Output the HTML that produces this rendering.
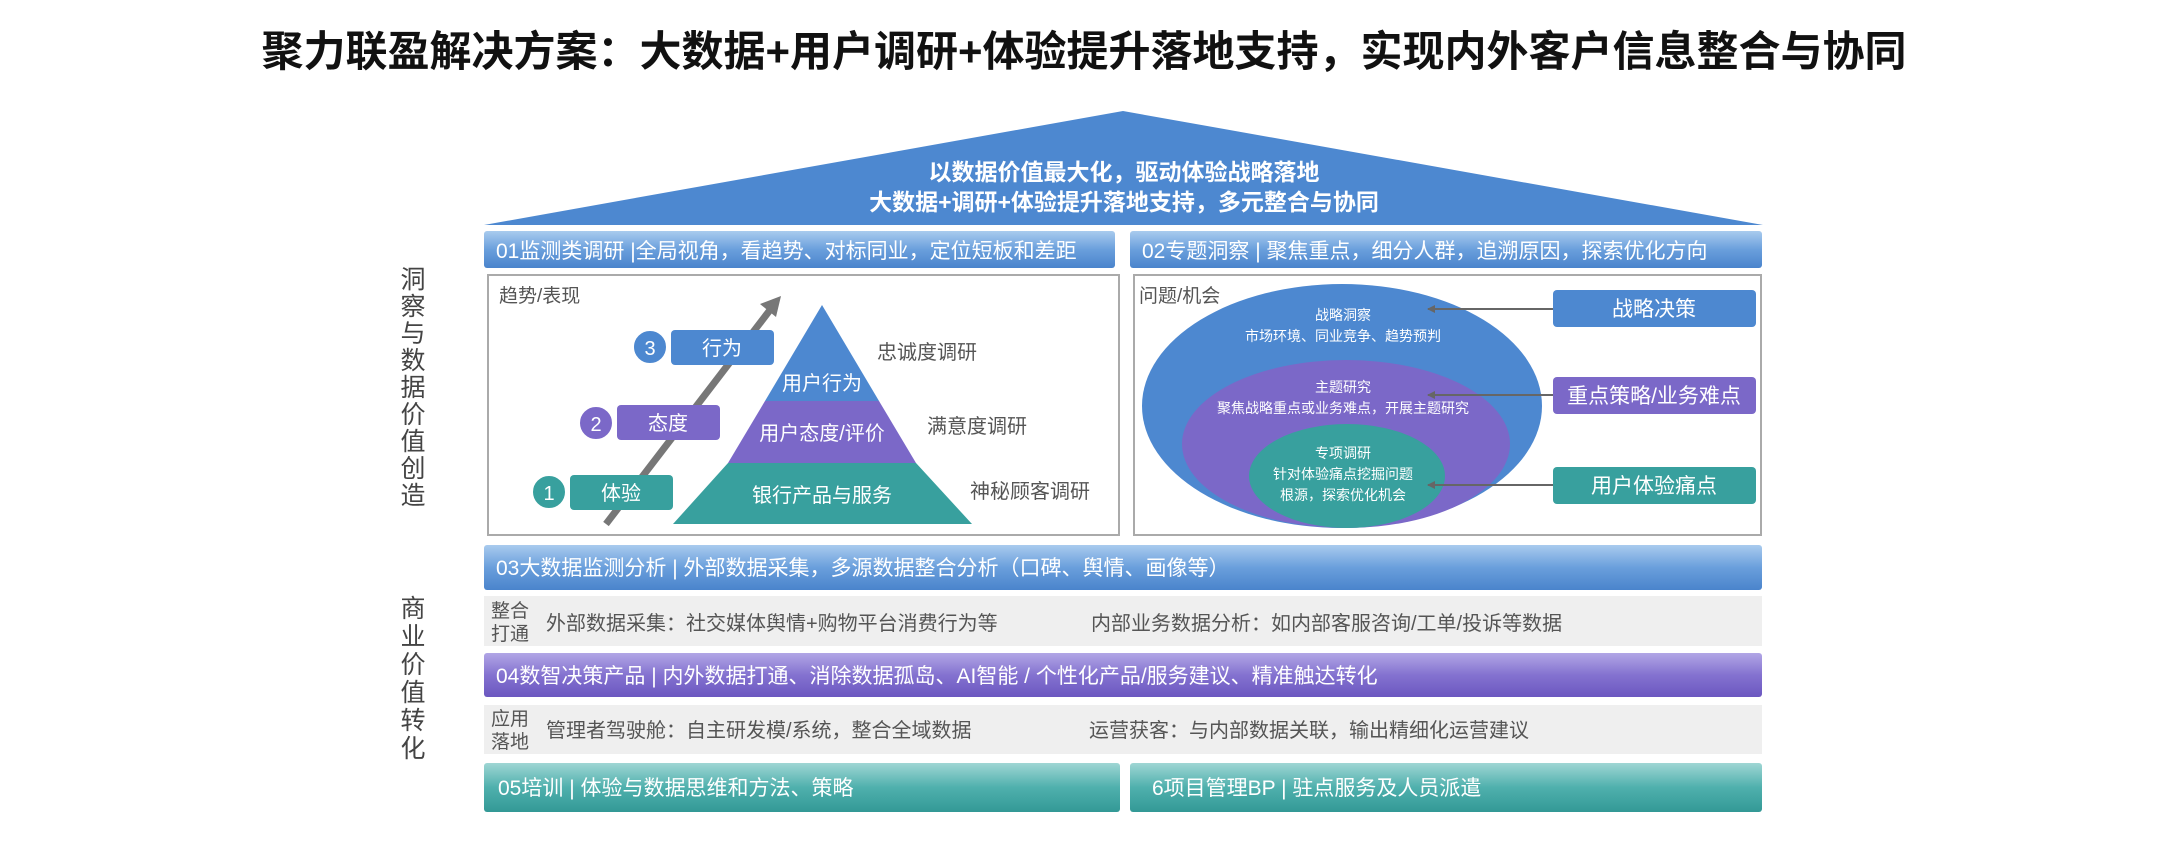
<!DOCTYPE html>
<html><head><meta charset="utf-8"><style>
html,body{margin:0;padding:0;background:#fff;}
svg{display:block;}
text{font-family:"Liberation Sans","Noto Sans CJK SC",sans-serif;}
</style></head><body>
<svg width="2168" height="857" viewBox="0 0 2168 857" xmlns="http://www.w3.org/2000/svg">
<defs>
<linearGradient id="gb" x1="0" y1="0" x2="0" y2="1"><stop offset="0" stop-color="#a9cbee"/><stop offset="0.5" stop-color="#6a9fdc"/><stop offset="1" stop-color="#4a84cc"/></linearGradient>
<linearGradient id="gp" x1="0" y1="0" x2="0" y2="1"><stop offset="0" stop-color="#b1a6e6"/><stop offset="0.5" stop-color="#8472d0"/><stop offset="1" stop-color="#6b57c0"/></linearGradient>
<linearGradient id="gt" x1="0" y1="0" x2="0" y2="1"><stop offset="0" stop-color="#9fd6d4"/><stop offset="0.5" stop-color="#4fb0ad"/><stop offset="1" stop-color="#339996"/></linearGradient>
<marker id="ah" markerWidth="8" markerHeight="8" refX="7" refY="4" orient="auto" markerUnits="userSpaceOnUse"><path d="M0,0 L8,4 L0,8 z" fill="#666"/></marker>
</defs>
<text x="1084" y="66" font-size="42" font-weight="bold" text-anchor="middle" fill="#111">聚力联盈解决方案：大数据+用户调研+体验提升落地支持，实现内外客户信息整合与协同</text>
<!-- roof -->
<polygon points="1123,111 1763,225 484,225" fill="#4d88d0"/>
<text x="1124" y="180" font-size="23" font-weight="bold" text-anchor="middle" fill="#fff">以数据价值最大化，驱动体验战略落地</text>
<text x="1124" y="210" font-size="23" font-weight="bold" text-anchor="middle" fill="#fff">大数据+调研+体验提升落地支持，多元整合与协同</text>
<!-- left labels -->
<g font-size="25" fill="#444" text-anchor="middle">
<text x="413" y="288">洞</text><text x="413" y="315">察</text><text x="413" y="342">与</text><text x="413" y="369">数</text><text x="413" y="396">据</text><text x="413" y="423">价</text><text x="413" y="450">值</text><text x="413" y="477">创</text><text x="413" y="504">造</text>
<text x="413" y="617">商</text><text x="413" y="645">业</text><text x="413" y="673">价</text><text x="413" y="701">值</text><text x="413" y="729">转</text><text x="413" y="757">化</text>
</g>
<!-- bars 01 02 -->
<rect x="484" y="231" width="631" height="37" rx="3" fill="url(#gb)"/>
<rect x="1130" y="231" width="632" height="37" rx="3" fill="url(#gb)"/>
<text x="496" y="258" font-size="21" fill="#fff">01监测类调研 |全局视角，看趋势、对标同业，定位短板和差距</text>
<text x="1142" y="258" font-size="21" fill="#fff">02专题洞察 | 聚焦重点，细分人群，追溯原因，探索优化方向</text>
<!-- boxes -->
<rect x="488" y="275" width="631" height="260" fill="#fff" stroke="#aaa" stroke-width="2"/>
<rect x="1134" y="275" width="627" height="260" fill="#fff" stroke="#aaa" stroke-width="2"/>
<text x="499" y="302" font-size="19" fill="#555">趋势/表现</text>
<text x="1139" y="302" font-size="19" fill="#555">问题/机会</text>
<!-- arrow -->
<line x1="606" y1="524" x2="770" y2="310" stroke="#777" stroke-width="7"/>
<polygon points="781,296 760,304 776,317" fill="#777"/>
<!-- pyramid -->
<polygon points="822,305 879,401 765,401" fill="#4d88d0"/>
<polygon points="765,401 879,401 916,463 728,463" fill="#7b68c8"/>
<polygon points="728,463 916,463 972,524 673,524" fill="#38a09e"/>
<text x="822" y="390" font-size="20" fill="#fff" text-anchor="middle">用户行为</text>
<text x="822" y="440" font-size="20" fill="#fff" text-anchor="middle">用户态度/评价</text>
<text x="822" y="502" font-size="20" fill="#fff" text-anchor="middle">银行产品与服务</text>
<g font-size="20" fill="#555">
<text x="877" y="359">忠诚度调研</text><text x="927" y="433">满意度调研</text><text x="970" y="498">神秘顾客调研</text>
</g>
<!-- badges -->
<rect x="671" y="330" width="103" height="35" rx="4" fill="#4d88d0"/><circle cx="650" cy="347" r="17" fill="#4d88d0" stroke="#fff" stroke-width="2"/>
<text x="722" y="355" font-size="20" fill="#fff" text-anchor="middle">行为</text><text x="650" y="355" font-size="20" fill="#fff" text-anchor="middle">3</text>
<rect x="617" y="405" width="103" height="35" rx="4" fill="#7b68c8"/><circle cx="596" cy="423" r="17" fill="#7b68c8" stroke="#fff" stroke-width="2"/>
<text x="668" y="430" font-size="20" fill="#fff" text-anchor="middle">态度</text><text x="596" y="431" font-size="20" fill="#fff" text-anchor="middle">2</text>
<rect x="570" y="475" width="103" height="35" rx="4" fill="#38a09e"/><circle cx="549" cy="492" r="17" fill="#38a09e" stroke="#fff" stroke-width="2"/>
<text x="621" y="500" font-size="20" fill="#fff" text-anchor="middle">体验</text><text x="549" y="500" font-size="20" fill="#fff" text-anchor="middle">1</text>
<!-- ellipses -->
<ellipse cx="1342" cy="406" rx="200" ry="122" fill="#4d88d0"/>
<ellipse cx="1346" cy="444" rx="164" ry="84" fill="#7b68c8"/>
<ellipse cx="1347" cy="476" rx="98" ry="52" fill="#38a09e"/>
<g font-size="14" fill="#fff" text-anchor="middle">
<text x="1343" y="320">战略洞察</text><text x="1343" y="341">市场环境、同业竞争、趋势预判</text>
<text x="1343" y="392">主题研究</text><text x="1343" y="413">聚焦战略重点或业务难点，开展主题研究</text>
<text x="1343" y="458">专项调研</text><text x="1343" y="479">针对体验痛点挖掘问题</text><text x="1343" y="500">根源，探索优化机会</text>
</g>
<g stroke="#666" stroke-width="2" marker-end="url(#ah)">
<line x1="1553" y1="309" x2="1428" y2="309"/><line x1="1553" y1="395" x2="1428" y2="395"/><line x1="1553" y1="485" x2="1428" y2="485"/>
</g>
<rect x="1553" y="290" width="203" height="37" rx="4" fill="#4d88d0"/>
<rect x="1553" y="377" width="203" height="37" rx="4" fill="#7b68c8"/>
<rect x="1553" y="467" width="203" height="37" rx="4" fill="#38a09e"/>
<g font-size="21" fill="#fff" text-anchor="middle">
<text x="1654" y="316">战略决策</text><text x="1654" y="403">重点策略/业务难点</text><text x="1654" y="493">用户体验痛点</text>
</g>
<!-- bar 03 -->
<rect x="484" y="545" width="1278" height="45" rx="3" fill="url(#gb)"/>
<text x="496" y="575" font-size="21" fill="#fff">03大数据监测分析 | 外部数据采集，多源数据整合分析（口碑、舆情、画像等）</text>
<rect x="484" y="596" width="1278" height="50" fill="#efefef"/>
<text x="491" y="617" font-size="19" fill="#555">整合</text><text x="491" y="640" font-size="19" fill="#555">打通</text>
<text x="546" y="630" font-size="20" fill="#555">外部数据采集：社交媒体舆情+购物平台消费行为等</text>
<text x="1091" y="630" font-size="20" fill="#555">内部业务数据分析：如内部客服咨询/工单/投诉等数据</text>
<rect x="484" y="653" width="1278" height="44" rx="3" fill="url(#gp)"/>
<text x="496" y="683" font-size="21" fill="#fff">04数智决策产品 | 内外数据打通、消除数据孤岛、AI智能 / 个性化产品/服务建议、精准触达转化</text>
<rect x="484" y="705" width="1278" height="49" fill="#efefef"/>
<text x="491" y="725" font-size="19" fill="#555">应用</text><text x="491" y="748" font-size="19" fill="#555">落地</text>
<text x="546" y="737" font-size="20" fill="#555">管理者驾驶舱：自主研发模/系统，整合全域数据</text>
<text x="1089" y="737" font-size="20" fill="#555">运营获客：与内部数据关联，输出精细化运营建议</text>
<rect x="484" y="763" width="636" height="49" rx="3" fill="url(#gt)"/>
<rect x="1130" y="763" width="632" height="49" rx="3" fill="url(#gt)"/>
<text x="498" y="795" font-size="21" fill="#fff">05培训 | 体验与数据思维和方法、策略</text>
<text x="1152" y="795" font-size="21" fill="#fff">6项目管理BP | 驻点服务及人员派遣</text>
</svg>
</body></html>
